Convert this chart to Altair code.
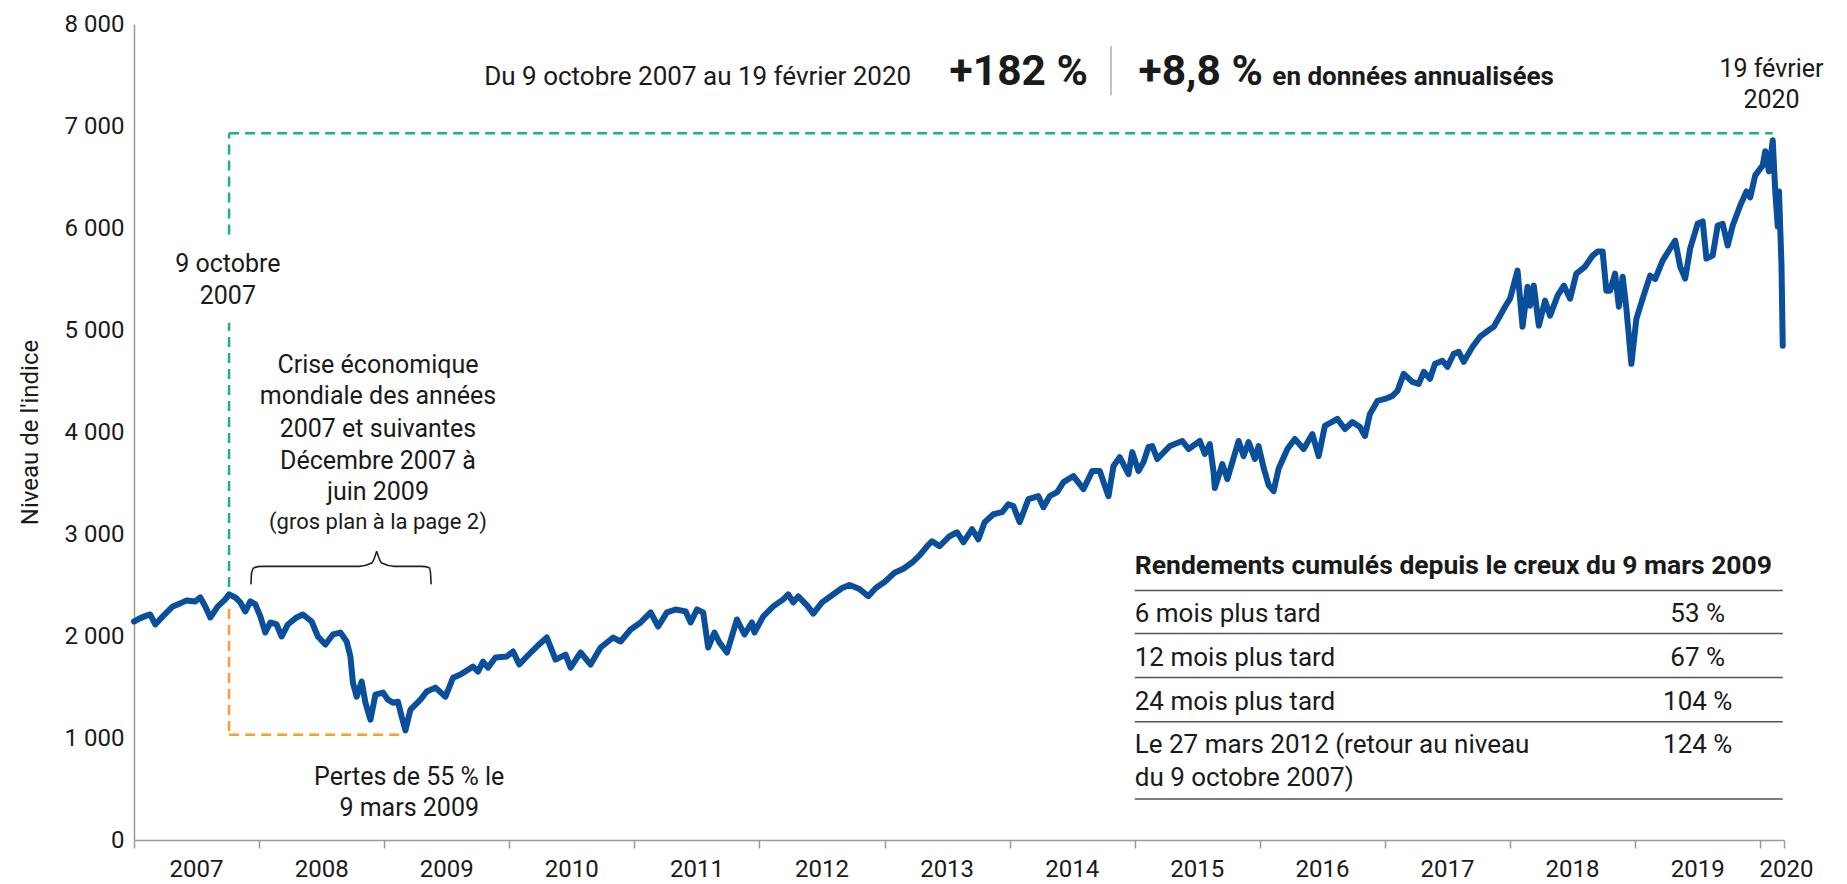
import altair as alt
import pandas as pd

# ---------------- data ----------------
years = [
    2007.00, 2007.05, 2007.10, 2007.13, 2007.17, 2007.23, 2007.31, 2007.37, 2007.42, 2007.49,
    2007.53, 2007.57, 2007.61, 2007.67, 2007.73, 2007.76, 2007.81, 2007.85, 2007.89, 2007.93,
    2007.97, 2008.01, 2008.05, 2008.09, 2008.14, 2008.18, 2008.23, 2008.30, 2008.35, 2008.42,
    2008.47, 2008.53, 2008.59, 2008.65, 2008.70, 2008.73, 2008.75, 2008.78, 2008.82, 2008.85,
    2008.89, 2008.93, 2008.99, 2009.03, 2009.07, 2009.11, 2009.14, 2009.17, 2009.21, 2009.29,
    2009.34, 2009.41, 2009.49, 2009.55, 2009.61, 2009.71, 2009.75, 2009.79, 2009.83, 2009.89,
    2009.98, 2010.03, 2010.08, 2010.14, 2010.22, 2010.30, 2010.37, 2010.45, 2010.49, 2010.57,
    2010.65, 2010.73, 2010.83, 2010.89, 2010.97, 2011.05, 2011.13, 2011.19, 2011.26, 2011.33,
    2011.41, 2011.45, 2011.50, 2011.55, 2011.59, 2011.64, 2011.68, 2011.74, 2011.82, 2011.88,
    2011.94, 2011.96, 2012.03, 2012.11, 2012.19, 2012.23, 2012.27, 2012.31, 2012.38, 2012.43,
    2012.50, 2012.58, 2012.66, 2012.72, 2012.80, 2012.87, 2012.93, 2013.00, 2013.08, 2013.15,
    2013.22, 2013.28, 2013.34, 2013.38, 2013.44, 2013.52, 2013.58, 2013.63, 2013.70, 2013.75,
    2013.80, 2013.87, 2013.94, 2013.99, 2014.03, 2014.08, 2014.15, 2014.23, 2014.27, 2014.32,
    2014.38, 2014.43, 2014.51, 2014.59, 2014.66, 2014.72, 2014.79, 2014.83, 2014.88, 2014.95,
    2014.98, 2015.03, 2015.07, 2015.11, 2015.14, 2015.18, 2015.28, 2015.38, 2015.43, 2015.52,
    2015.56, 2015.60, 2015.63, 2015.64, 2015.70, 2015.74, 2015.83, 2015.87, 2015.91, 2015.96,
    2015.99, 2016.03, 2016.07, 2016.11, 2016.15, 2016.22, 2016.28, 2016.35, 2016.42, 2016.47,
    2016.52, 2016.62, 2016.68, 2016.74, 2016.80, 2016.84, 2016.88, 2016.94, 2017.00, 2017.06,
    2017.10, 2017.15, 2017.22, 2017.27, 2017.31, 2017.36, 2017.40, 2017.46, 2017.50, 2017.55,
    2017.59, 2017.63, 2017.70, 2017.76, 2017.82, 2017.87, 2017.92, 2017.96, 2018.00, 2018.06,
    2018.10, 2018.14, 2018.16, 2018.19, 2018.23, 2018.28, 2018.32, 2018.38, 2018.43, 2018.48,
    2018.53, 2018.60, 2018.66, 2018.70, 2018.74, 2018.77, 2018.80, 2018.84, 2018.87, 2018.90,
    2018.93, 2018.97, 2019.01, 2019.06, 2019.12, 2019.16, 2019.22, 2019.28, 2019.32, 2019.36,
    2019.40, 2019.44, 2019.50, 2019.54, 2019.57, 2019.62, 2019.66, 2019.70, 2019.74, 2019.78,
    2019.84, 2019.89, 2019.92, 2019.96, 2020.02, 2020.04, 2020.07, 2020.10, 2020.12, 2020.14,
    2020.15, 2020.17, 2020.18,
]
values = [
    2142, 2175, 2200, 2211, 2113, 2192, 2290, 2320, 2349, 2339,
    2378, 2290, 2182, 2290, 2359, 2408, 2378, 2329, 2241, 2339,
    2310, 2192, 2034, 2133, 2113, 1995, 2113, 2182, 2211, 2142,
    1995, 1916, 2015, 2034, 1946, 1799, 1543, 1405, 1553, 1346,
    1179, 1425, 1445, 1376, 1346, 1356, 1209, 1075, 1278, 1376,
    1455, 1494, 1405, 1590, 1622, 1700, 1651, 1749, 1690, 1789,
    1799, 1848, 1720, 1799, 1897, 1985, 1769, 1818, 1690, 1838,
    1720, 1887, 1985, 1946, 2064, 2133, 2231, 2093, 2231, 2260,
    2241, 2133, 2260, 2231, 1887, 2034, 1936, 1838, 2162, 2015,
    2133, 2034, 2192, 2290, 2359, 2408, 2329, 2388, 2300, 2220,
    2330, 2400, 2470, 2500, 2460, 2390, 2470, 2530, 2620, 2660,
    2720, 2790, 2880, 2929, 2880, 2978, 3017, 2919, 3047, 2948,
    3115, 3194, 3214, 3292, 3273, 3115, 3342, 3371, 3263, 3371,
    3410, 3508, 3568, 3440, 3617, 3617, 3371, 3666, 3754, 3587,
    3803, 3617, 3705, 3853, 3862, 3735, 3862, 3912, 3833, 3912,
    3784, 3882, 3607, 3450, 3685, 3538, 3912, 3764, 3902, 3735,
    3862, 3650, 3480, 3420, 3640, 3833, 3931, 3833, 3980, 3764,
    4059, 4128, 4029, 4098, 4049, 3961, 4177, 4305, 4324, 4354,
    4403, 4570, 4491, 4472, 4590, 4521, 4668, 4698, 4639, 4767,
    4786, 4688, 4835, 4934, 4990, 5032, 5140, 5228, 5307, 5582,
    5032, 5425, 5238, 5435, 5042, 5288, 5140, 5337, 5435, 5307,
    5553, 5622, 5730, 5769, 5769, 5386, 5386, 5553, 5228, 5523,
    5209, 4668, 5110, 5307, 5533, 5500, 5681, 5799, 5877, 5622,
    5504, 5799, 6044, 6064, 5700, 5730, 6024, 6040, 5828, 6024,
    6221, 6359, 6300, 6516, 6614, 6752, 6555, 6860, 6359, 6015,
    6359, 5631, 4845,
]

year_labels = [str(y) for y in range(2007, 2021)]
y_ticks = [0, 1000, 2000, 3000, 4000, 5000, 6000, 7000, 8000]

table_title = "Rendements cumulés depuis le creux du 9 mars 2009"
table_rows = ["6 mois plus tard", "12 mois plus tard", "24 mois plus tard",
              "Le 27 mars 2012 (retour au niveau", "du 9 octobre 2007)"]
table_values = ["53 %", "67 %", "104 %", "124 %"]

crisis_lines = ["Crise économique", "mondiale des années", "2007 et suivantes",
                "Décembre 2007 à", "juin 2009"]

# ---------------- layout (data-coordinate positions of annotations) ----------------
X_DOMAIN = [2007, 2020.19]
x_ticks = list(range(2007, 2021)) + [2020.19]
year_label_x = [y + 0.5 for y in range(2007, 2020)] + [2020.21]
YEAR_LABEL_Y = -295

BLUE = "#0A4F9B"
TEAL = "#1BAE9A"
ORANGE = "#F5A033"
TXT = "#1a1a1a"
AXIS_GRAY = "#9a9a9a"
FONT = "Roboto"

line_df = pd.DataFrame({"year": years, "value": values})

x_axis = alt.Axis(values=x_ticks, labels=False, ticks=True, tickSize=8,
                  tickColor=AXIS_GRAY, domainColor=AXIS_GRAY, grid=False,
                  title="", tickWidth=1.5, domainWidth=1.5)
y_axis = alt.Axis(values=y_ticks, grid=False, ticks=False,
                  labelExpr="replace(format(datum.value, ','), ',', ' ')",
                  labelFontSize=24, labelFont=FONT, labelColor=TXT,
                  labelPadding=10, domainColor=AXIS_GRAY, domainWidth=1.5,
                  title="Niveau de l'indice", titleFontSize=24,
                  titleFont=FONT, titleFontWeight="normal", titleColor=TXT,
                  titleAngle=270, titleX=-104, titleY=408,
                  titleAlign="center", titleBaseline="middle")

base_x = alt.X("year:Q", scale=alt.Scale(domain=X_DOMAIN, nice=False, zero=False),
               axis=x_axis)
base_y = alt.Y("value:Q", scale=alt.Scale(domain=[0, 8000], nice=False, zero=True),
               axis=y_axis)

main = alt.Chart(line_df).mark_line(color=BLUE, strokeWidth=6, strokeJoin="round",
                                    strokeCap="round").encode(x=base_x, y=base_y)

NX = alt.X("year:Q", title="")
NY = alt.Y("value:Q", title="Niveau de l'indice")


def rules(df, color, width, dash=None):
    kw = dict(color=color, strokeWidth=width)
    if dash:
        kw["strokeDash"] = dash
    return alt.Chart(df).mark_rule(**kw).encode(x=NX, y=NY, x2="year2:Q", y2="value2:Q")


teal_df = pd.DataFrame({
    "year": [2007.76, 2007.76, 2007.76],
    "year2": [2007.76, 2007.76, 2020.10],
    "value": [2480, 5936, 6929],
    "value2": [5071, 6929, 6929],
})
orange_df = pd.DataFrame({
    "year": [2007.76, 2007.76],
    "year2": [2007.76, 2009.17],
    "value": [2265, 1032],
    "value2": [1032, 1032],
})
gray_df = pd.DataFrame({  # separator + table rules
    "year": [2014.81, 2015.0, 2015.0, 2015.0, 2015.0, 2015.0],
    "year2": [2014.81, 2020.18, 2020.18, 2020.18, 2020.18, 2020.18],
    "value": [7302, 2447, 2025, 1592, 1160, 403],
    "value2": [7784, 2447, 2025, 1592, 1160, 403],
    "c": ["#b0b0b0", "#555555", "#555555", "#555555", "#555555", "#555555"],
})

brace_df = pd.DataFrame({
    "year": [2007.935, 2007.94, 2007.96, 2008.02, 2008.80, 2008.90, 2008.94,
             2008.94, 2008.98, 2009.08, 2009.30, 2009.36, 2009.37, 2009.375],
    "value": [2506, 2620, 2670, 2683, 2683, 2715, 2830,
              2830, 2715, 2683, 2683, 2670, 2620, 2506],
    "part": ["a"] * 7 + ["b"] * 7,
    "o": list(range(14)),
})
brace = alt.Chart(brace_df).mark_line(color="#222222", strokeWidth=1.6,
                                      interpolate="monotone").encode(
    x=NX, y=NY, detail="part:N", order="o:Q")


def texts(df, align, baseline, weight="normal"):
    return alt.Chart(df).mark_text(align=align, baseline=baseline, fontWeight=weight,
                                   font=FONT, color=TXT).encode(
        x=NX, y=NY, text="t:N", size=alt.Size("s:Q", scale=None))


COLS = ["t", "year", "value", "s"]
center_df = pd.DataFrame(
    [("9 octobre", 2007.75, 5651, 25), ("2007", 2007.75, 5337, 25)]
    + [(t, 2008.95, yv, 25) for t, yv in zip(crisis_lines, [4658, 4354, 4029, 3715, 3410])]
    + [("(gros plan à la page 2)", 2008.95, 3115, 22),
       ("Pertes de 55 % le", 2009.20, 619, 25), ("9 mars 2009", 2009.20, 315, 25),
       ("19 février", 2020.09, 7558, 25), ("2020", 2020.09, 7253, 25)]
    + [(t, 2019.5, yv, 26) for t, yv in zip(table_values, [2211, 1789, 1356, 934])]
    + [(t, xv, YEAR_LABEL_Y, 24) for t, xv in zip(year_labels, year_label_x)],
    columns=COLS)

left_df = pd.DataFrame(
    [(t, 2015.0, yv, 26) for t, yv in zip(table_rows, [2211, 1789, 1356, 934, 609])],
    columns=COLS)
left_bold_df = pd.DataFrame([(table_title, 2015.0, 2683, 26.5)], columns=COLS)

top_reg_df = pd.DataFrame([("Du 9 octobre 2007 au 19 février 2020", 2009.80, 7400, 26)],
                          columns=COLS)
top_bold_df = pd.DataFrame([("+182 %", 2013.52, 7400, 42.5), ("+8,8 %", 2015.03, 7400, 42.5),
                            ("en données annualisées", 2016.10, 7400, 26)],
                           columns=COLS)

gray_rules = alt.Chart(gray_df).mark_rule(strokeWidth=1.5).encode(
    x=NX, y=NY, x2="year2:Q", y2="value2:Q", color=alt.Color("c:N", scale=None))

chart = alt.layer(
    main,
    rules(teal_df, TEAL, 2.5, [10, 6]),
    rules(orange_df, ORANGE, 2.5, [10, 6]),
    gray_rules,
    brace,
    texts(center_df, "center", "middle"),
    texts(left_df, "left", "middle"),
    texts(left_bold_df, "left", "middle", "bold"),
    texts(top_reg_df, "left", "alphabetic"),
    texts(top_bold_df, "left", "alphabetic", "bold"),
).properties(
    width=1650, height=816,
    autosize=alt.AutoSizeParams(type="none"),
    padding={"left": 134, "top": 24, "right": 63, "bottom": 44},
    background="white",
).configure_view(stroke=None).configure_axis(labelFont=FONT, titleFont=FONT)

chart.save("out.html", embed_options={"renderer": "svg", "actions": False})
